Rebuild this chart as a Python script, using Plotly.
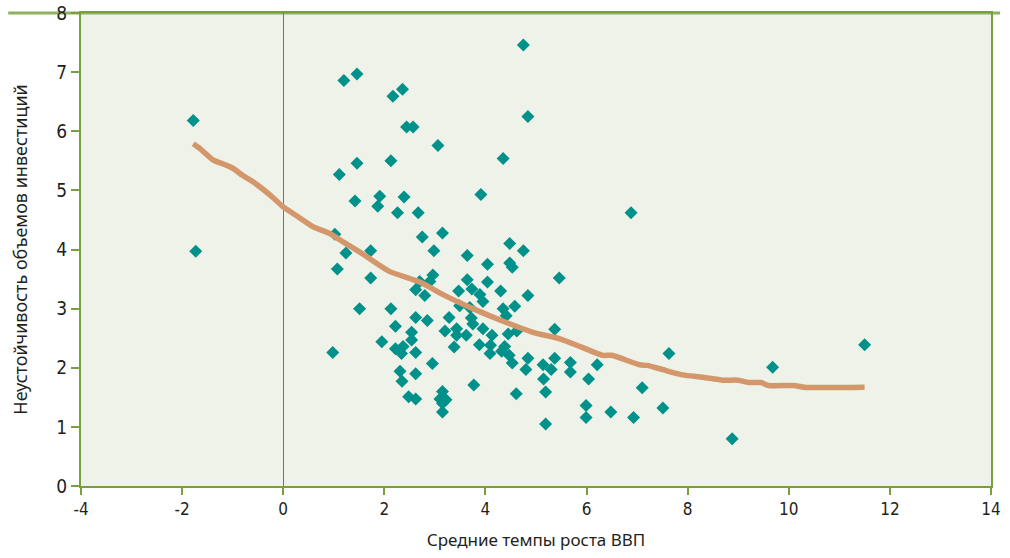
import plotly.graph_objects as go

# Scatter data: average GDP growth (x) vs investment volatility (y)
growth = [
    -1.78, -1.73,
    1.20, 1.46, 2.17, 2.36, 2.44, 2.57, 3.06, 4.75, 4.84, 4.35, 1.46, 1.11, 2.13,
    1.42, 1.91, 1.87, 2.39, 2.26, 2.67, 3.91, 6.88,
    1.02, 1.24, 1.07, 1.73, 1.73, 2.75, 3.15, 2.98, 3.64, 4.48, 4.75, 4.04, 4.48, 4.53, 5.46,
    2.96, 2.90, 2.70, 2.62, 2.80, 1.51, 2.13, 3.64, 3.47, 3.73, 3.89, 3.95, 4.04, 4.30, 4.84,
    4.58, 4.35, 4.41, 3.49, 3.69,
    2.62, 2.85, 3.28, 3.72, 3.75, 2.22, 2.54, 3.20, 3.43, 3.43, 3.62, 3.95, 4.13, 4.45, 4.62, 5.37,
    0.98, 1.95, 2.22, 2.37, 2.34, 2.62, 2.54, 3.38, 3.88, 4.10, 4.09, 4.38, 4.32, 4.47, 4.53,
    4.84, 4.80, 5.37, 5.14, 5.30, 5.15, 5.68, 5.68, 6.21, 6.04, 7.63, 9.68, 11.50,
    2.95, 2.31, 2.62, 2.35, 3.77, 2.48, 2.62, 3.15, 3.10, 3.22, 3.15, 3.15, 4.61, 5.19, 5.19,
    5.99, 5.99, 6.48, 6.93, 7.51, 7.10, 8.88,
]
volatility = [
    6.18, 3.97,
    6.86, 6.97, 6.59, 6.71, 6.07, 6.07, 5.76, 7.46, 6.25, 5.54, 5.46, 5.27, 5.50,
    4.82, 4.90, 4.73, 4.89, 4.62, 4.62, 4.93, 4.62,
    4.26, 3.94, 3.67, 3.98, 3.52, 4.21, 4.28, 3.98, 3.90, 4.10, 3.98, 3.75, 3.77, 3.70, 3.52,
    3.57, 3.46, 3.46, 3.32, 3.22, 3.00, 3.00, 3.49, 3.30, 3.33, 3.24, 3.12, 3.45, 3.30, 3.22,
    3.04, 3.00, 2.88, 3.05, 3.02,
    2.85, 2.80, 2.85, 2.84, 2.74, 2.70, 2.60, 2.62, 2.66, 2.55, 2.55, 2.66, 2.55, 2.57, 2.62, 2.65,
    2.26, 2.44, 2.32, 2.36, 2.24, 2.26, 2.47, 2.35, 2.39, 2.38, 2.24, 2.36, 2.28, 2.21, 2.08,
    2.16, 1.97, 2.16, 2.05, 1.97, 1.81, 2.09, 1.93, 2.05, 1.81, 2.24, 2.01, 2.39,
    2.07, 1.94, 1.90, 1.77, 1.71, 1.51, 1.47, 1.60, 1.47, 1.46, 1.40, 1.25, 1.56, 1.59, 1.05,
    1.36, 1.16, 1.25, 1.16, 1.32, 1.66, 0.80,
]

# Smoothed fit line
fit_x = [-1.78, -1.65, -1.38, -1.2, -0.99, -0.8, -0.59, -0.23, 0.0, 0.3, 0.6, 0.92, 1.2, 1.58,
         2.1, 2.7, 3.2, 3.75, 4.4, 4.94, 5.47, 5.9, 6.32, 6.5, 7.05, 7.2, 7.5, 7.9, 8.3, 8.7,
         9.0, 9.2, 9.45, 9.6, 10.1, 10.3, 11.5]
fit_y = [5.79, 5.71, 5.51, 5.45, 5.37, 5.25, 5.14, 4.90, 4.72, 4.55, 4.38, 4.27, 4.12, 3.92,
         3.63, 3.45, 3.22, 3.00, 2.77, 2.60, 2.49, 2.35, 2.21, 2.21, 2.05, 2.04, 1.97, 1.88,
         1.84, 1.79, 1.79, 1.75, 1.75, 1.70, 1.70, 1.67, 1.67]

x_ticks = [-4, -2, 0, 2, 4, 6, 8, 10, 12, 14]
y_ticks = [0, 1, 2, 3, 4, 5, 6, 7, 8]

x_title = "Средние темпы роста ВВП"
y_title = "Неустойчивость объемов инвестиций"

GREEN = "#78a040"
TICKFONT = "DejaVu Sans Condensed, Liberation Sans Narrow, Roboto, sans-serif"
TITLEFONT = "Noto Sans, sans-serif"

fig = go.Figure()
fig.add_trace(go.Scatter(
    x=growth, y=volatility, mode="markers",
    marker=dict(symbol="diamond", size=10, color="#00918a", line=dict(width=0)),
    showlegend=False, hoverinfo="x+y",
))
fig.add_trace(go.Scatter(
    x=fit_x, y=fit_y, mode="lines",
    line=dict(color="#d4976c", width=5.5, shape="spline", smoothing=0.6),
    showlegend=False, hoverinfo="skip",
))

fig.update_layout(
    width=1010, height=558,
    margin=dict(l=81, r=19, t=13, b=72),
    paper_bgcolor="white",
    plot_bgcolor="#eef2e8",
    font=dict(family=TICKFONT, size=17, color="#231f20"),
    xaxis=dict(
        range=[-4, 14], tickvals=x_ticks, ticktext=[str(v) for v in x_ticks],
        automargin=False,
        showgrid=False, zeroline=True, zerolinecolor="#5d8a2e", zerolinewidth=1,
        showline=True, linecolor=GREEN, linewidth=2, mirror=True,
        ticks="outside", ticklen=7, tickcolor=GREEN, tickwidth=2,
        title=dict(text=x_title, font=dict(size=17, family=TITLEFONT), standoff=16),
        tickfont=dict(size=17),
    ),
    yaxis=dict(
        range=[0, 8], tickvals=y_ticks, ticktext=[str(v) for v in y_ticks],
        automargin=False,
        showgrid=False, zeroline=False,
        showline=True, linecolor=GREEN, linewidth=2, mirror=True,
        ticks="outside", ticklen=8, tickcolor=GREEN, tickwidth=2,
        title=dict(text=y_title, font=dict(size=18, family=TITLEFONT), standoff=24),
        tickfont=dict(size=19),
    ),
)

# Top frame line extending beyond the plot area
fig.add_shape(type="line", xref="paper", yref="paper", x0=-0.08, x1=1.01, y0=1.0, y1=1.0,
              line=dict(color="#8fb060", width=3), layer="below")

# Remove the default page margin so the figure fills the window exactly
fig.write_html("out.html", config={"displayModeBar": False},
               post_script="document.body.style.margin='0';")
